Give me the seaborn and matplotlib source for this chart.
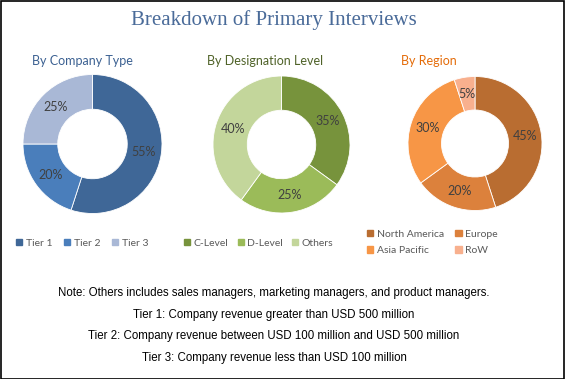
import matplotlib
matplotlib.use("Agg")
import matplotlib.pyplot as plt
import seaborn as sns
from matplotlib.patches import Patch, Rectangle

sns.set_theme(style="white")
plt.rcParams['font.family'] = ['DejaVu Sans']

# Data
company_labels = ["Tier 1", "Tier 2", "Tier 3"]
company_values = [55, 20, 25]
designation_labels = ["C-Level", "D-Level", "Others"]
designation_values = [35, 25, 40]
region_labels = ["North America", "Europe", "Asia Pacific", "RoW"]
region_values = [45, 20, 30, 5]

title = "Breakdown of Primary Interviews"
subtitles = ["By Company Type", "By Designation Level", "By Region"]
notes = [
    "Note: Others includes sales managers, marketing managers, and product managers.",
    "Tier 1: Company revenue greater than USD 500 million",
    "Tier 2: Company revenue between USD 100 million and USD 500 million",
    "Tier 3: Company revenue less than USD 100 million",
]

blue_colors = ["#3f6797", "#4a7ebb", "#a9b8d6"]
green_colors = ["#77933c", "#9bbb59", "#c3d69b"]
orange_colors = ["#b96d31", "#dc813c", "#f79646", "#f8b08e"]

W, H = 565, 379
fig = plt.figure(figsize=(W / 100, H / 100), dpi=100)
fig.patch.set_facecolor("white")

def add_donut(cx, cy, r, values, colors):
    ax = fig.add_axes([(cx - r) / W, (H - cy - r) / H, 2 * r / W, 2 * r / H])
    wedges, texts = ax.pie(values, colors=colors, startangle=90, counterclock=False,
                           radius=1, wedgeprops=dict(width=0.5, edgecolor="white", linewidth=0.6),
                           labels=[f"{v}%" for v in values], labeldistance=0.75,
                           textprops=dict(fontsize=9, color="#404040", family="Lato"))
    for t in texts:
        t.set_ha("center"); t.set_va("center")
    ax.set_xlim(-1, 1); ax.set_ylim(-1, 1)
    ax.set_aspect("equal")
    ax.axis("off")
    return ax

add_donut(92.5, 144, 69.5, company_values, blue_colors)
add_donut(281.5, 144.5, 68.5, designation_values, green_colors)
add_donut(475, 143.5, 67, region_values, orange_colors)

# Title and subtitles
fig.text(274 / W, 1 - 20 / H, title, ha="center", va="center", fontsize=15,
         family="Liberation Serif", color="#4a6b99")
sub_x = [82, 265, 429]
sub_colors = ["#3c6192", "#4f6228", "#e46c0a"]
for x, s, c in zip(sub_x, subtitles, sub_colors):
    fig.text(x / W, 1 - 61 / H, s, ha="center", va="center", fontsize=9, color=c, family="Lato")

# Legends
def add_legend(labels, colors, x, y, ncol, colspacing, labelspacing=0.5):
    handles = [Patch(facecolor=c, edgecolor=c) for c in colors]
    leg = fig.legend(handles, labels, loc="center left", bbox_to_anchor=(x / W, 1 - y / H),
                     ncol=ncol, frameon=False, prop=dict(family="Lato", size=7.5),
                     handlelength=0.6, handleheight=0.6,
                     handletextpad=0.35, columnspacing=colspacing, labelspacing=labelspacing,
                     borderpad=0, borderaxespad=0)
    for t in leg.get_texts():
        t.set_color("#595959")
    return leg

add_legend(company_labels, blue_colors, 16, 243, 3, 1.1)
add_legend(designation_labels, green_colors, 184, 243, 3, 0.85)
# order so rows read: North America, Europe / Asia Pacific, RoW
order = [0, 2, 1, 3]
add_legend([region_labels[i] for i in order], [orange_colors[i] for i in order], 367, 242.5, 2, 1.1,
           labelspacing=0.75)

# Notes
note_y = [293, 315, 336, 358]
for y, n in zip(note_y, notes):
    fig.text(274 / W, 1 - y / H, n, ha="center", va="center", fontsize=8.3, color="#000000",
             family="Liberation Sans")

# Border
fig.add_artist(Rectangle((0.5 / W, 0.5 / H), 1 - 1.5 / W, 1 - 1.5 / H, transform=fig.transFigure,
                         fill=False, edgecolor="black", linewidth=1.2))

fig.savefig("out.png", dpi=100, facecolor="white")
